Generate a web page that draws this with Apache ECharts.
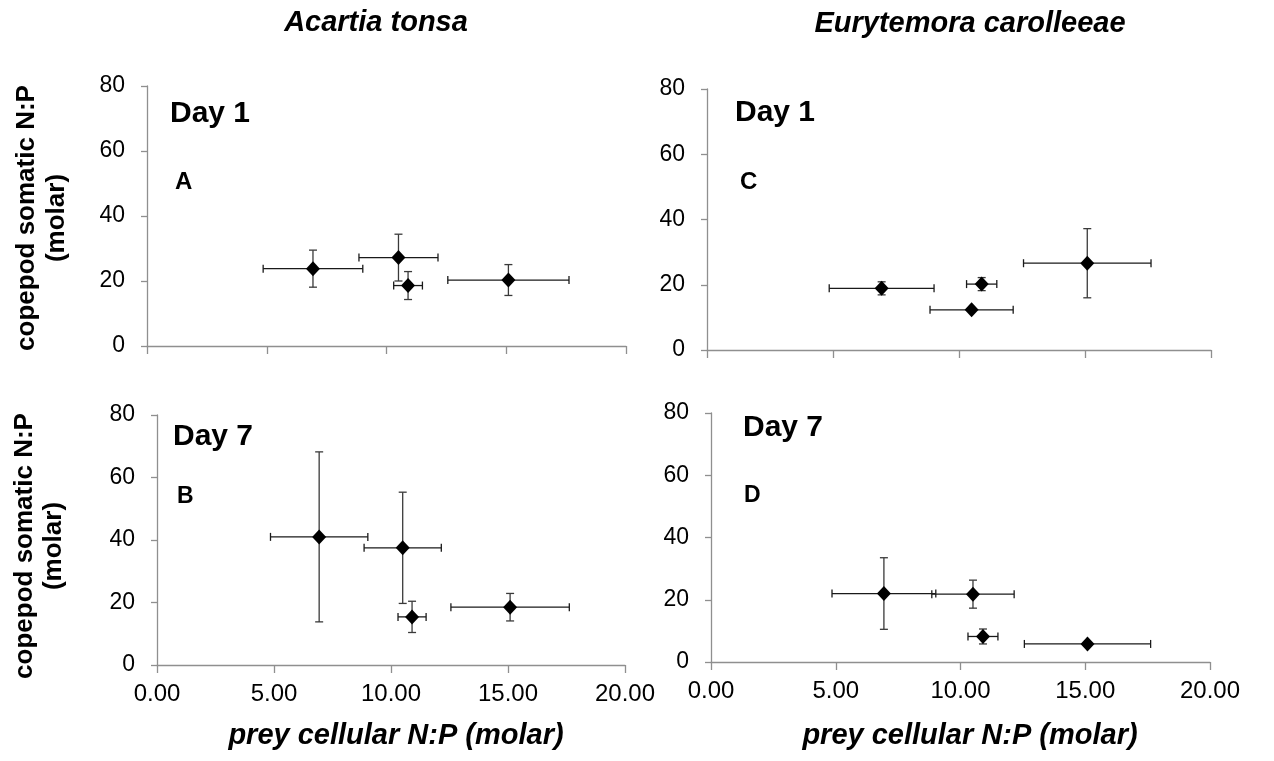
<!DOCTYPE html>
<html>
<head>
<meta charset="utf-8">
<script src="https://cdn.jsdelivr.net/npm/echarts@6/dist/echarts.min.js"></script>
<style>
  html, body { margin: 0; padding: 0; background: #fff; }
  #chart { width: 1274px; height: 761px; }
</style>
</head>
<body>
<div id="chart"></div>
<script>
// prey cellular N:P (same four prey treatments in every panel)
const preyNP = [6.93, 10.5, 10.9, 15.09];
const preyNPErr = [2.08, 1.65, 0.6, 2.53];

// copepod somatic N:P, mean and error
const acartiaDay1 = [23.8, 27.2, 18.6, 20.3];
const acartiaDay1Err = [5.7, 7.2, 4.3, 4.75];
const acartiaDay7 = [41.0, 37.5, 15.4, 18.5];
const acartiaDay7Err = [27.2, 17.8, 5.0, 4.4];
const eurytemoraDay1 = [18.9, 12.3, 20.2, 26.6];
const eurytemoraDay1Err = [2.0, 0.4, 2.0, 10.6];
const eurytemoraDay7 = [22.0, 21.8, 8.2, 5.8];
const eurytemoraDay7Err = [11.5, 4.5, 2.4, 0.5];

const xTicks = [0, 5, 10, 15, 20];
const yTicks = [0, 20, 40, 60, 80];

const FONT = "'Liberation Sans', Arial, sans-serif";
const AXIS_GREY = "#8f8f8f";

const panels = [
  { y: acartiaDay1, yErr: acartiaDay1Err, grid: { left: 147, top: 86, width: 479, height: 260 }, xLabels: false },
  { y: acartiaDay7, yErr: acartiaDay7Err, grid: { left: 157, top: 415, width: 468, height: 250 }, xLabels: true },
  { y: eurytemoraDay1, yErr: eurytemoraDay1Err, grid: { left: 707, top: 89, width: 504, height: 261 }, xLabels: false },
  { y: eurytemoraDay7, yErr: eurytemoraDay7Err, grid: { left: 711, top: 413, width: 499, height: 249 }, xLabels: true }
];

function errorBars(params, api) {
  const x = api.value(0), y = api.value(1), xe = api.value(2), ye = api.value(3);
  const l = api.coord([x - xe, y]), r = api.coord([x + xe, y]);
  const t = api.coord([x, y + ye]), b = api.coord([x, y - ye]);
  const cap = 4;
  const st = { stroke: "#1a1a1a", lineWidth: 1.3 };
  const vs = { stroke: "#3a3a3a", lineWidth: 1.3 };
  const line = (x1, y1, x2, y2, s) => ({ type: "line", shape: { x1, y1, x2, y2 }, style: s });
  return {
    type: "group",
    children: [
      line(l[0], l[1], r[0], r[1], st),
      line(l[0], l[1] - cap, l[0], l[1] + cap, st),
      line(r[0], r[1] - cap, r[0], r[1] + cap, st),
      line(t[0], t[1], b[0], b[1], vs),
      line(t[0] - cap, t[1], t[0] + cap, t[1], vs),
      line(b[0] - cap, b[1], b[0] + cap, b[1], vs)
    ]
  };
}

const grid = [], xAxis = [], yAxis = [], series = [];
panels.forEach((p, i) => {
  grid.push(p.grid);
  xAxis.push({
    type: "value", gridIndex: i, min: xTicks[0], max: xTicks[xTicks.length - 1], interval: 5,
    splitLine: { show: false },
    axisLine: { lineStyle: { color: AXIS_GREY, width: 1.3 } },
    axisTick: { length: 8, lineStyle: { color: AXIS_GREY, width: 1.3 } },
    axisLabel: {
      show: p.xLabels, margin: 17, color: "#000", fontSize: 24, fontFamily: FONT,
      formatter: v => v.toFixed(2)
    }
  });
  yAxis.push({
    type: "value", gridIndex: i, min: yTicks[0], max: yTicks[yTicks.length - 1], interval: 20,
    splitLine: { show: false },
    axisLine: { show: true, lineStyle: { color: AXIS_GREY, width: 1.3 } },
    axisTick: { show: true, length: 6, lineStyle: { color: AXIS_GREY, width: 1.3 } },
    axisLabel: { margin: 22, color: "#000", fontSize: 23, fontFamily: FONT }
  });
  const pts = preyNP.map((x, k) => [x, p.y[k], preyNPErr[k], p.yErr[k]]);
  series.push({
    type: "custom", xAxisIndex: i, yAxisIndex: i, renderItem: errorBars,
    data: pts, z: 2, silent: true
  });
  series.push({
    type: "scatter", xAxisIndex: i, yAxisIndex: i, symbol: "diamond", symbolSize: [14, 15],
    itemStyle: { color: "#000", opacity: 1 }, data: pts.map(d => [d[0], d[1]]), z: 3
  });
});

const txt = (text, x, y, size, extra) => ({
  type: "text", x, y, z: 10,
  style: Object.assign({
    text, fontSize: size, fontWeight: "bold", fontFamily: FONT, fill: "#000",
    verticalAlign: "middle"
  }, extra || {})
});

const graphic = [
  txt("Acartia tonsa", 376, 23, 29, { fontStyle: "italic", align: "center" }),
  txt("Eurytemora carolleeae", 970, 24, 29, { fontStyle: "italic", align: "center" }),
  txt("prey cellular N:P (molar)", 396, 736, 29, { fontStyle: "italic", align: "center" }),
  txt("prey cellular N:P (molar)", 970, 736, 29, { fontStyle: "italic", align: "center" }),
  txt("Day 1", 170, 114, 30),
  txt("A", 175, 182, 24),
  txt("Day 1", 735, 113, 30),
  txt("C", 740, 182, 24),
  txt("Day 7", 173, 437, 30),
  txt("B", 177, 497, 23),
  txt("Day 7", 743, 428, 30),
  txt("D", 744, 496, 23),
  Object.assign(txt("copepod somatic N:P\n(molar)", 42, 218, 26, { align: "center", lineHeight: 30 }), { rotation: Math.PI / 2 }),
  Object.assign(txt("copepod somatic N:P\n(molar)", 39, 546, 26, { align: "center", lineHeight: 29 }), { rotation: Math.PI / 2 })
];

const chart = echarts.init(document.getElementById("chart"), null, { renderer: "canvas" });
chart.setOption({
  backgroundColor: "#fff",
  animation: false,
  grid, xAxis, yAxis, series, graphic
});
</script>
</body>
</html>
